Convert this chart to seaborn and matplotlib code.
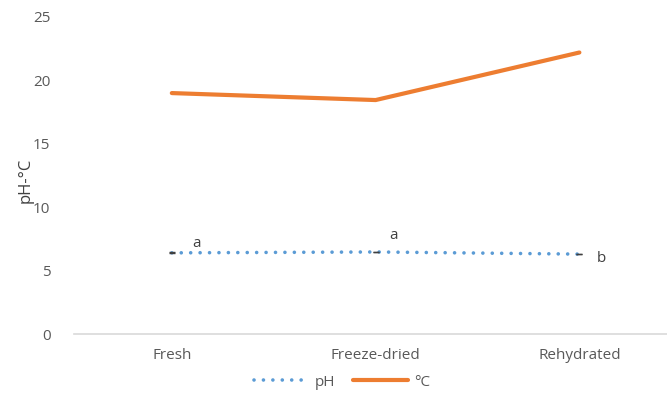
import matplotlib
matplotlib.use("Agg")
import matplotlib.pyplot as plt
import seaborn as sns
import pandas as pd
import numpy as np

categories = ["Fresh", "Freeze-dried", "Rehydrated"]
ph_values = [6.4, 6.47, 6.3]
ph_err = [0.03, 0.03, 0.03]
temp_values = [19.0, 18.45, 22.2]
ph_letters = ["a", "a", "b"]

sns.set_theme(style="white")
plt.rcParams['font.family'] = ['Open Sans', 'DejaVu Sans']

fig = plt.figure(figsize=(6.67, 4.07), dpi=100)
ax = fig.add_axes([74/667, 73/407, (667-74)/667, (334-17)/407])

x = np.arange(len(categories))
df_ph = pd.DataFrame({"x": x, "v": ph_values})
df_t = pd.DataFrame({"x": x, "v": temp_values})

sns.lineplot(data=df_ph, x="x", y="v", ax=ax, color="#5B9BD5", linewidth=2.6,
             linestyle=(0, (0.01, 2.6)), label="pH")
ax.lines[-1].set_dash_capstyle("round")
sns.lineplot(data=df_t, x="x", y="v", ax=ax, color="#ED7D31", linewidth=3, label="°C")
ax.errorbar(x, ph_values, yerr=ph_err, fmt="none", ecolor="#404040", elinewidth=0.6, capsize=2.5)

offsets = [(18, 7), (13, 12), (16, -3)]
for xi, yi, lab, off in zip(x, ph_values, ph_letters, offsets):
    ax.annotate(lab, (xi, yi), xytext=off, textcoords="offset points",
                ha="center", va="center", fontsize=11, color="#404040")

ax.set_xlim(-0.48, 2.43)
ax.set_ylim(0, 25)
ax.set_yticks([0, 5, 10, 15, 20, 25])
ax.set_xticks(x)
ax.set_xticklabels(categories)
ax.tick_params(axis="both", colors="#595959", labelsize=11, length=0, pad=17)
ax.tick_params(axis="x", pad=10)
ax.set_xlabel("")
ax.set_ylabel("pH-°C", color="#404040", fontsize=12)
ax.yaxis.set_label_coords(-0.068, 0.486)
for s in ["top", "right", "left"]:
    ax.spines[s].set_visible(False)
ax.spines["bottom"].set_color("#D9D9D9")
ax.spines["bottom"].set_linewidth(1.2)
ax.grid(False)

leg = ax.legend(loc="upper center", bbox_to_anchor=(0.452, -0.085), ncol=2, frameon=False,
                fontsize=11, handlelength=3.6, columnspacing=1.2, handletextpad=0.4)
for t in leg.get_texts():
    t.set_color("#595959")

fig.savefig("out.png", dpi=100)
